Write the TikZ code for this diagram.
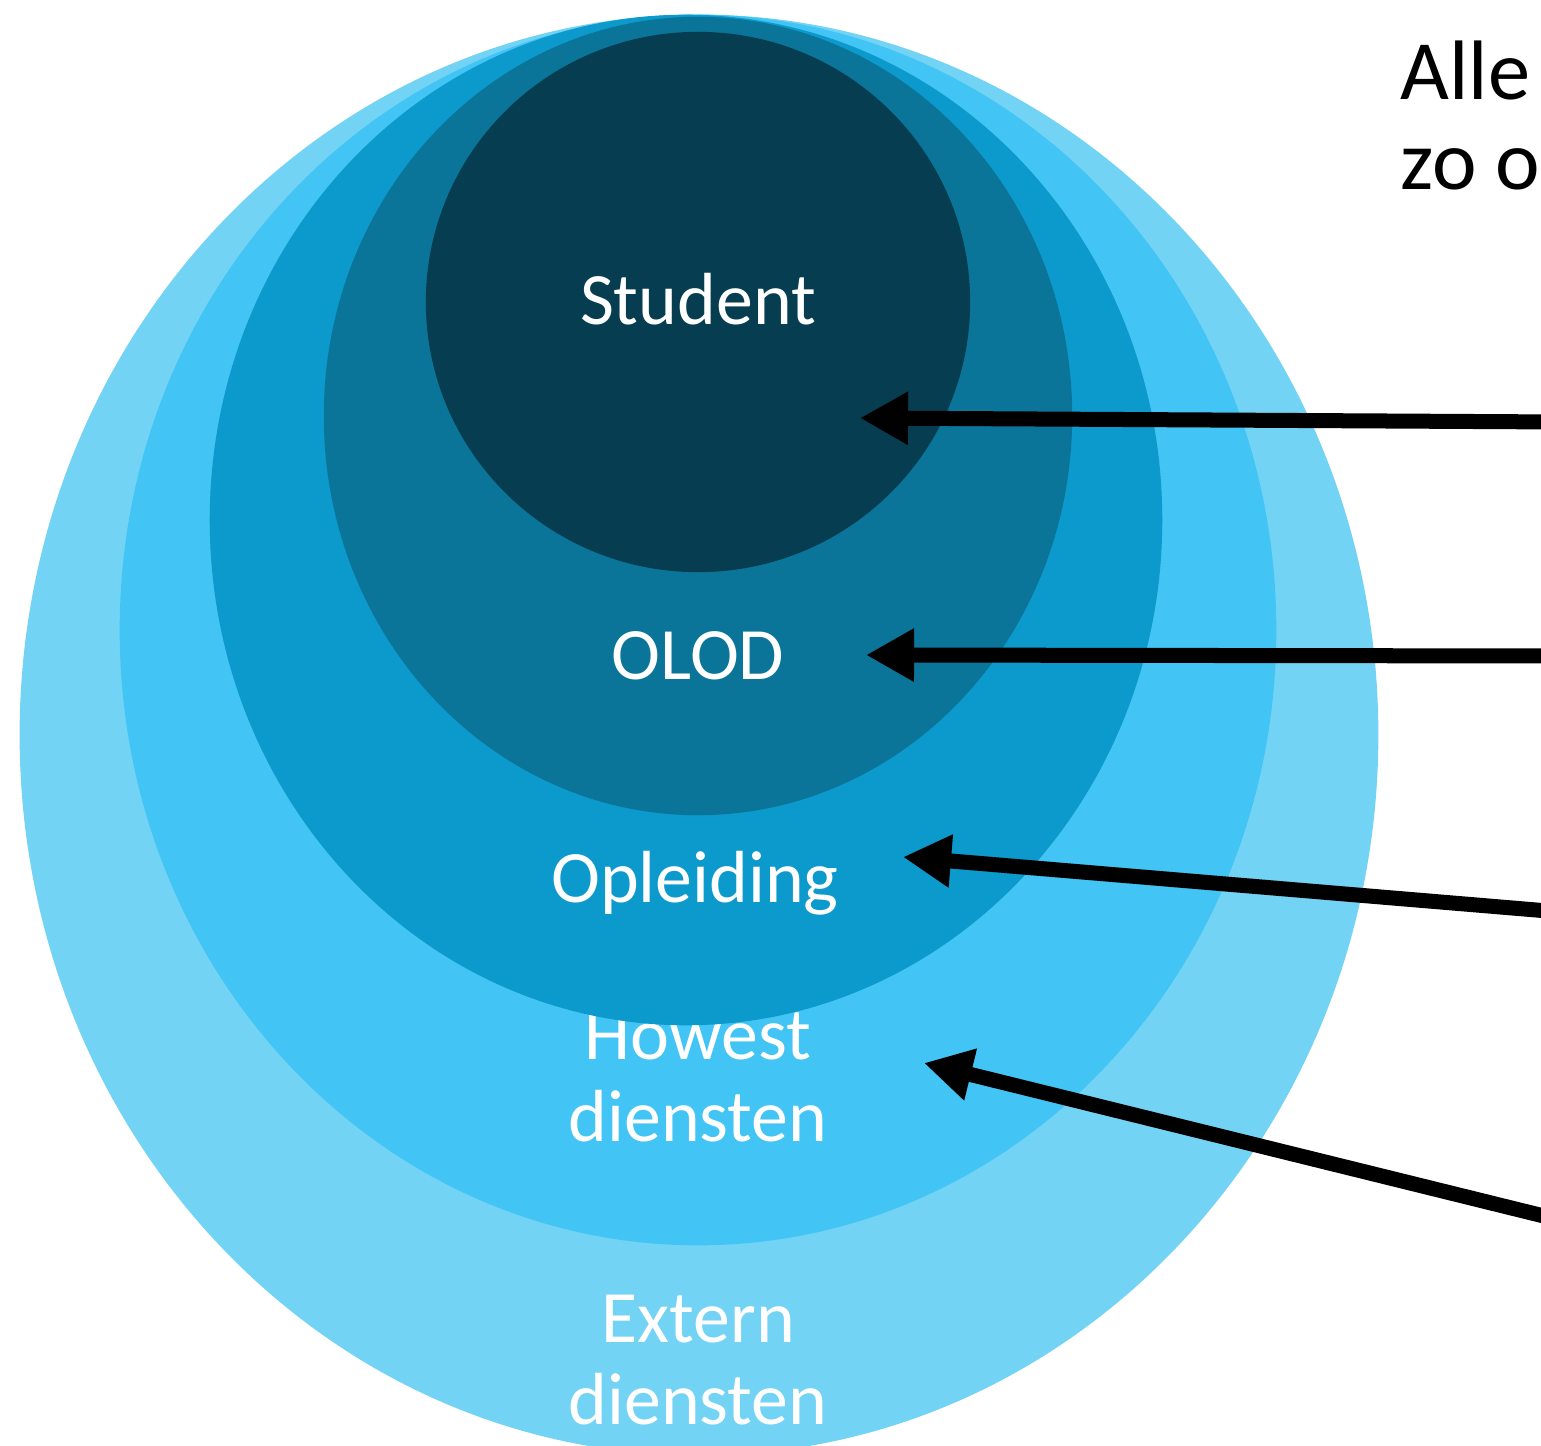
\documentclass[tikz,border=0pt]{standalone}
\usepackage{fontspec}
\setmainfont{Carlito}
\usepackage{tikz}
\usetikzlibrary{arrows.meta}

\definecolor{extern_blue}{HTML}{73D3F5}
\definecolor{howest_blue}{HTML}{42C4F4}
\definecolor{opleiding_blue}{HTML}{0C9ACD}
\definecolor{olod_blue}{HTML}{0A7499}
\definecolor{student_blue}{HTML}{063D50}

\begin{document}
\begin{tikzpicture}[
        x=0.01cm, y=-0.01cm,
        ring_label/.style={text=white, align=center, font=\fontsize{21}{23.3}\selectfont, inner sep=0pt},
        side_text/.style={text=black, align=left, font=\fontsize{24}{25.6}\selectfont, inner sep=0pt, anchor=north west},
        arrow/.style={-{Triangle[length=0.48cm, width=0.5cm]}, line width=0.15cm}
    ]
    \useasboundingbox (0,0) rectangle (1541,1446);
    \fill[extern_blue] (699,735) ellipse [x radius=6.79cm, y radius=7.2cm];
    \node[ring_label] (extern) at (698,1360) {Extern\\diensten};
    \fill[howest_blue] (698,630) ellipse [x radius=5.78cm, y radius=6.15cm];
    \node[ring_label] (howest) at (698,1077) {Howest\\diensten};
    \fill[opleiding_blue] (686,520) ellipse [x radius=4.76cm, y radius=5.05cm];
    \node[ring_label, anchor=base] (opleiding) at (695,903) {Opleiding};
    \fill[olod_blue] (698,416) ellipse [x radius=3.74cm, y radius=3.99cm];
    \node[ring_label, anchor=base] (olod) at (698,680) {OLOD};
    \fill[student_blue] (698,302) ellipse [x radius=2.72cm, y radius=2.7cm];
    \node[ring_label, anchor=base] (student) at (698,325) {Student};
    \node[side_text] (intro) at (1400,40) {Alle\\zo o};
    \coordinate (end_student) at (1560,422);
    \coordinate (end_olod) at (1560,656);
    \coordinate (end_opleiding) at (1560,912);
    \coordinate (end_howest) at (1560,1220);
    \coordinate (tip_student) at (860,418);
    \coordinate (tip_olod) at (866,655);
    \coordinate (tip_opleiding) at (903,857);
    \coordinate (tip_howest) at (924,1063);
    \draw[arrow] (end_student) -- (tip_student);
    \draw[arrow] (end_olod) -- (tip_olod);
    \draw[arrow] (end_opleiding) -- (tip_opleiding);
    \draw[arrow] (end_howest) -- (tip_howest);
\end{tikzpicture}
\end{document}
